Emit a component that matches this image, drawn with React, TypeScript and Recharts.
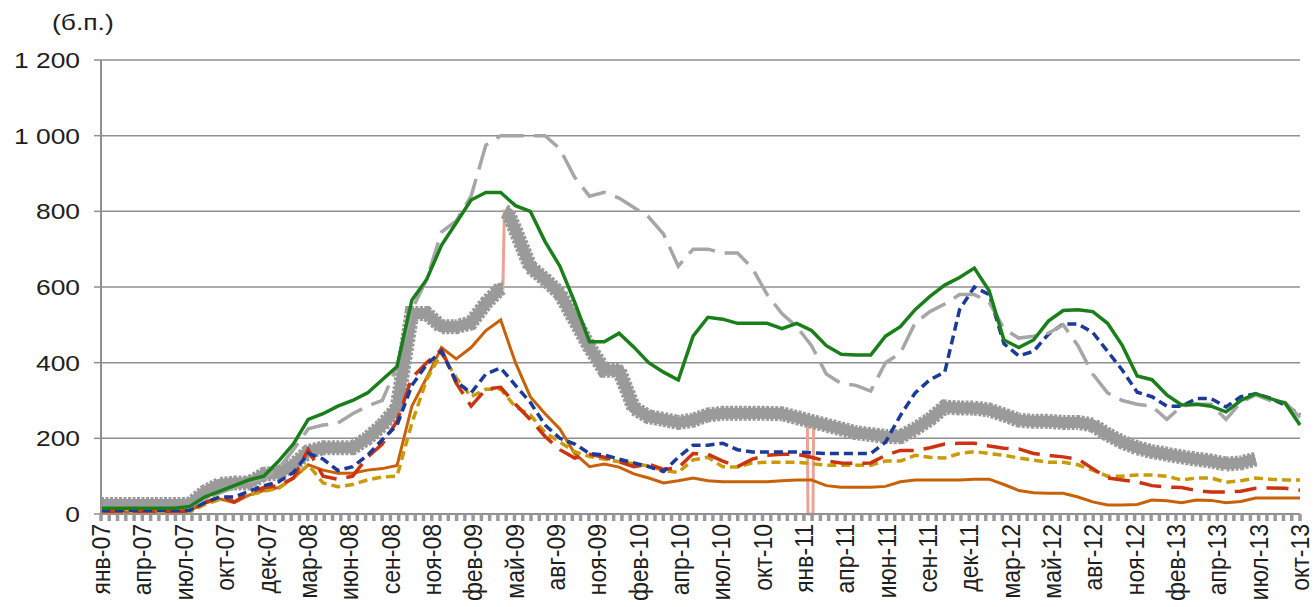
import React from "react";
import { LineChart, Line, XAxis, YAxis, CartesianGrid } from "recharts";

// month index 0 = янв-07 ... 81 = окт-13
const months = Array.from({ length: 82 }, (_, i) => i);

const xLabels = [
  "янв-07", "апр-07", "июл-07", "окт-07", "дек-07", "мар-08", "июн-08", "сен-08",
  "ноя-08", "фев-09", "май-09", "авг-09", "ноя-09", "фев-10", "апр-10", "июл-10",
  "окт-10", "янв-11", "апр-11", "июн-11", "сен-11", "дек-11", "мар-12", "май-12",
  "авг-12", "ноя-12", "фев-13", "апр-13", "июл-13", "окт-13",
];

const yTicks = [0, 200, 400, 600, 800, 1000, 1200];

const greenValues = [
  15, 15, 15, 15, 15, 15, 20, 45, 60, 75,
  90, 100, 140, 185, 250, 265, 285, 300, 320, 355,
  390, 565, 620, 710, 770, 830, 850, 850, 815, 800,
  720, 655, 560, 455, 455, 478, 441, 400, 375, 354,
  470, 520, 515, 504, 504, 504, 490, 504, 485, 445,
  422, 420, 420, 470, 495, 540, 575, 605, 625, 650,
  590, 460, 440, 460, 510, 538, 540, 535, 504, 445,
  365, 355, 315, 288, 290, 285, 270, 300, 318, 305,
  293, 235,
];

const grayDashValues = [
  15, 15, 15, 15, 15, 15, 20, 40, 55, 70,
  85, 95, 120, 170, 225, 235, 240, 265, 285, 300,
  390, 540, 620, 745, 775, 840, 975, 1000, 1000, 1000,
  1000, 965, 890, 840, 850, 835, 810, 785, 740, 655,
  700, 700, 690, 690, 650, 580, 530, 495, 445, 370,
  345, 340, 325, 400, 425, 505, 535, 555, 580, 580,
  560, 490, 465, 470, 478, 500, 445, 370, 320, 300,
  290, 285, 250, 285, 290, 290, 250, 295, 315, 300,
  295, 255,
];

const blueValues = [
  10, 10, 10, 10, 10, 10, 10, 30, 45, 45,
  60, 75, 85, 110, 160, 145, 115, 125, 155, 196,
  235, 340, 395, 430, 350, 320, 370, 386, 340, 295,
  235, 200, 185, 160, 156, 145, 135, 125, 112, 150,
  182, 182, 187, 170, 164, 164, 164, 164, 162, 160,
  160, 160, 160, 190, 260, 320, 355, 375, 540, 600,
  580, 450, 418, 430, 475, 502, 502, 480, 430, 380,
  322, 310, 285, 285, 305, 305, 283, 310, 318, 306,
  288, 262,
];

const redValues = [
  5, 5, 5, 5, 5, 5, 8, 30, 45, 32,
  55, 70, 75, 95, 170, 100, 92, 100, 150, 185,
  245, 360, 400, 435, 346, 285, 330, 335, 290, 250,
  205, 170, 148, 158, 150, 138, 125, 132, 118, 122,
  160, 158, 140, 125, 145, 155, 158, 158, 150, 140,
  135, 134, 135, 155, 168, 168, 175, 185, 187, 187,
  180, 174, 172, 160, 155, 151, 145, 120, 95, 90,
  85, 75, 71, 70, 62, 58, 58, 60, 68, 69,
  68, 63,
];

const goldValues = [
  5, 5, 5, 5, 5, 5, 5, 25, 38, 35,
  50, 60, 68, 95, 130, 82, 72, 78, 90, 98,
  100, 240, 355, 425, 360, 310, 330, 330, 283, 262,
  215, 190, 165, 152, 145, 138, 133, 127, 115, 110,
  143, 150, 125, 124, 135, 137, 137, 137, 133, 129,
  129, 129, 129, 140, 140, 155, 150, 148, 160, 165,
  160, 155, 148, 142, 137, 137, 130, 116, 100, 100,
  103, 103, 100, 90, 95, 95, 84, 88, 95, 92,
  90, 90,
];

const orangeValues = [
  5, 5, 5, 5, 5, 8, 10, 28, 40, 30,
  50, 62, 70, 95, 130, 116, 108, 108, 116, 120,
  128, 285, 360, 440, 410, 440, 485, 513, 400, 310,
  265, 225, 160, 125, 132, 124, 106, 95, 82, 88,
  95, 88, 85, 85, 85, 85, 88, 90, 90, 75,
  71, 71, 71, 73, 85, 90, 90, 90, 90, 92,
  92, 78, 62, 56, 55, 55, 45, 32, 24, 24,
  25, 37, 35, 30, 37, 36, 30, 33, 42, 42,
  42, 42,
];

// gray series with star markers (drawn as a marker band over a salmon line)
const starMonths = [
  0, 1, 2, 3, 4, 5, 6, 7, 8, 9, 10, 11, 12, 13, 14, 15, 16, 17, 18, 19, 20,
  21, 22, 23, 24, 25, 26, 27, 27.15, 27.25, 27.5,
  28, 29, 30, 31, 32, 33, 34, 35, 36, 37, 38, 39, 40, 41, 42, 43, 44, 45, 46, 47,
  49, 50, 51, 52, 53, 54, 55, 56, 57, 58, 59, 60, 61, 62, 63, 64, 65, 66, 67, 68,
  69, 70, 71, 72, 73, 74, 75, 76, 77, 78,
];
const starValues = [
  25, 25, 25, 25, 25, 25, 25, 58, 78, 82, 82, 105, 108, 130, 165, 175, 175, 175, 200, 235, 280,
  530, 530, 495, 495, 505, 557, 597, 597, 800, 795,
  750, 653, 620, 583, 513, 441, 380, 380, 280, 257, 250, 242, 248, 262, 266, 266, 266, 266, 265, 255,
  235, 225, 215, 210, 205, 204, 225, 250, 283, 280, 280, 275, 262, 248, 245, 245, 242, 242, 235, 210,
  190, 175, 165, 158, 151, 145, 140, 132, 135, 145,
];
// short drop to zero in January 2011 (only the thin line shows it)
const spikeMonths = [47.72, 47.76, 48.1, 48.14];
const spikeValues = [250, 0, 0, 240];
// where the marker band is interrupted by a jump
const bandGaps = [27.2];

const toData = (vals: (number | null)[]) => months.map((m, i) => ({ m, v: vals[i] }));
const byMonth = (a: { m: number }, b: { m: number }) => a.m - b.m;

const starPoints = starMonths.map((m, i) => ({ m, v: starValues[i] as number | null }));
const bandData = [...starPoints, ...bandGaps.map((m) => ({ m, v: null }))].sort(byMonth);
const pinkData = [
  ...starPoints,
  ...spikeMonths.map((m, i) => ({ m, v: spikeValues[i] as number | null })),
].sort(byMonth);

const minorCount = 145; // 5 tick marks per label interval
const xTicks = Array.from({ length: minorCount + 1 }, (_, i) => (i * 81) / minorCount);

const FONT = "'Liberation Sans', Arial, sans-serif";
const GRID = "#8f8f8f";

function MonthTick(props: any) {
  const { x, y, index } = props;
  if (index % 5 !== 0) return <g />;
  const label = xLabels[index / 5];
  return (
    <g transform={`translate(${x},${y + 1}) rotate(-90) scale(1,1.1)`}>
      <text x={0} y={0} textAnchor="end" dy="0.36em" fontSize={23} fontFamily={FONT} fill="#1e1e1e">
        {label}
      </text>
    </g>
  );
}

function ValueTick(props: any) {
  const { x, y, payload } = props;
  const v = payload.value as number;
  const s = v >= 1000 ? `${Math.floor(v / 1000)} ${String(v % 1000).padStart(3, "0")}` : String(v);
  return (
    <g transform={`translate(${x},${y}) scale(1.2,1)`}>
      <text x={0} y={0} textAnchor="end" dy="0.36em" fontSize={22} fontFamily={FONT} fill="#1e1e1e">
        {s}
      </text>
    </g>
  );
}

export default function App() {
  return (
    <div style={{ position: "absolute", left: 0, top: 0, width: 1315, height: 607, background: "#fff" }}>
      <div
        style={{
          position: "absolute",
          left: 52,
          top: 10,
          fontFamily: FONT,
          fontSize: 22,
          color: "#1e1e1e",
          transform: "scaleX(1.2)",
          transformOrigin: "left top",
          whiteSpace: "nowrap",
        }}
      >
        (б.п.)
      </div>
      <LineChart width={1315} height={607} margin={{ top: 60, right: 15, bottom: 0, left: 0 }}>
        <CartesianGrid vertical={false} stroke={GRID} strokeWidth={1.5} />
        <XAxis
          dataKey="m"
          type="number"
          domain={[0, 81]}
          ticks={xTicks}
          interval={0}
          height={93}
          tickSize={7}
          tickMargin={2}
          tick={MonthTick}
          axisLine={{ stroke: GRID, strokeWidth: 2 }}
          tickLine={{ stroke: "#999", strokeWidth: 3.5 }}
        />
        <YAxis
          type="number"
          domain={[0, 1200]}
          ticks={yTicks}
          width={101}
          tickSize={7}
          tickMargin={14}
          tick={ValueTick}
          axisLine={{ stroke: GRID, strokeWidth: 2 }}
          tickLine={{ stroke: GRID, strokeWidth: 1.5 }}
        />
        <Line data={pinkData} dataKey="v" stroke="#e9a493" strokeWidth={3} dot={false} activeDot={false} isAnimationActive={false} />
        <Line data={bandData} dataKey="v" stroke="#9a9a9a" strokeWidth={15} strokeDasharray="3 1.5" dot={false} activeDot={false} isAnimationActive={false} />
        <Line data={bandData} dataKey="v" stroke="#9a9a9a" strokeWidth={11} dot={false} activeDot={false} isAnimationActive={false} />
        <Line data={toData(orangeValues)} dataKey="v" stroke="#c8620a" strokeWidth={3} dot={false} activeDot={false} isAnimationActive={false} />
        <Line data={toData(goldValues)} dataKey="v" stroke="#c99a0a" strokeWidth={3.5} strokeDasharray="9 5" dot={false} activeDot={false} isAnimationActive={false} />
        <Line data={toData(redValues)} dataKey="v" stroke="#cc3311" strokeWidth={3.5} strokeDasharray="22 10" dot={false} activeDot={false} isAnimationActive={false} />
        <Line data={toData(blueValues)} dataKey="v" stroke="#1b3a9a" strokeWidth={3.5} strokeDasharray="9 5" dot={false} activeDot={false} isAnimationActive={false} />
        <Line data={toData(grayDashValues)} dataKey="v" stroke="#a6a6a6" strokeWidth={3.5} strokeDasharray="28 10" dot={false} activeDot={false} isAnimationActive={false} />
        <Line data={toData(greenValues)} dataKey="v" stroke="#1a7f1a" strokeWidth={3.5} dot={false} activeDot={false} isAnimationActive={false} />
      </LineChart>
    </div>
  );
}
